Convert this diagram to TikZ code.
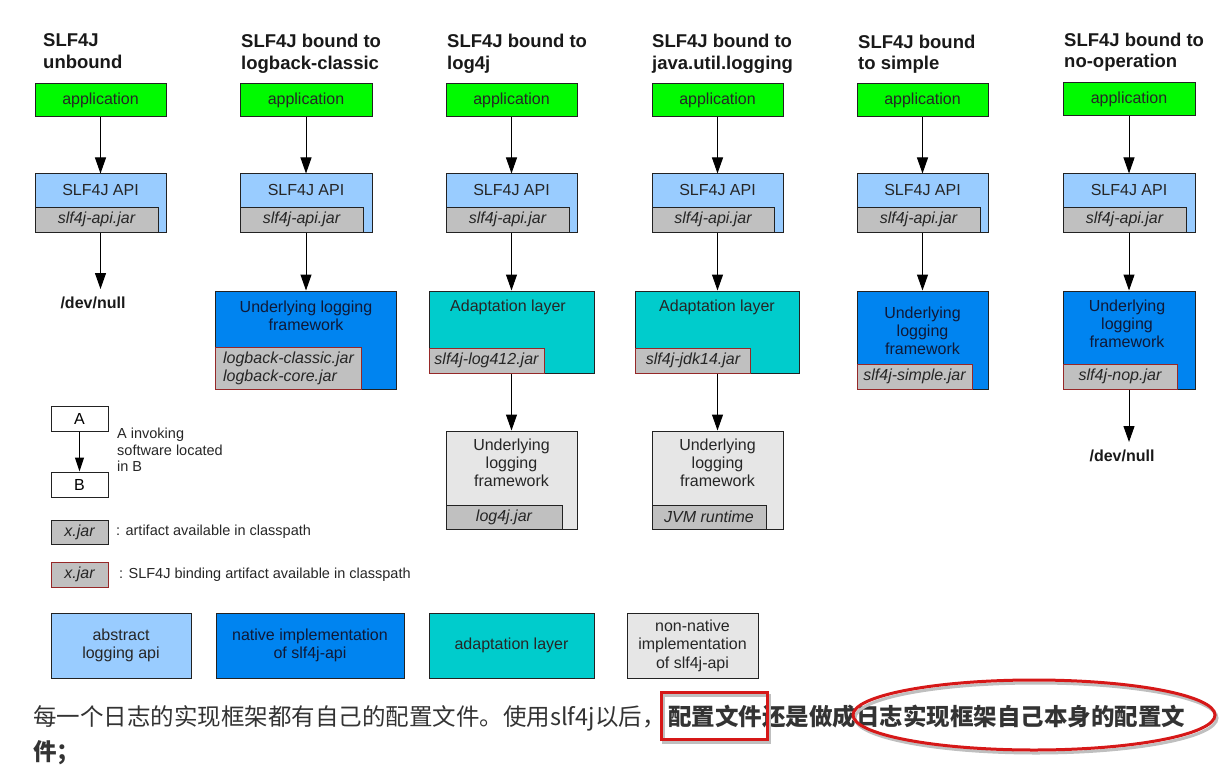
\documentclass[tikz,border=0pt]{standalone}
\usepackage{fontspec}
\setmainfont{Liberation Sans}
\newfontfamily\cjk{Noto Sans CJK SC}
\usetikzlibrary{arrows.meta}

\definecolor{appgreen}{RGB}{0,250,0}
\definecolor{apiblue}{RGB}{153,204,255}
\definecolor{natblue}{RGB}{0,132,240}
\definecolor{adteal}{RGB}{0,204,204}
\definecolor{nnlgray}{RGB}{230,230,230}
\definecolor{jargray}{RGB}{192,192,192}
\definecolor{bindred}{RGB}{150,40,40}
\definecolor{edgecol}{RGB}{34,34,34}
\definecolor{txtgray}{RGB}{51,51,51}
\definecolor{annred}{RGB}{214,24,24}
\definecolor{darktxt}{RGB}{15,25,55}

\newcommand\myfs{\fontsize{16}{18}\selectfont}
\newcommand\mysmall{\fontsize{14.5}{16.5}\selectfont}

\begin{document}
\begin{tikzpicture}[x=1pt,y=-1pt,
  box/.style={draw=edgecol, line width=1pt, inner sep=0pt},
  appbox/.style={box, fill=appgreen, minimum width=131pt, minimum height=33pt, font=\myfs, text=black!85},
  apibox/.style={box, fill=apiblue, minimum width=131pt, minimum height=58pt},
  natbox/.style={box, fill=natblue, minimum width=131pt, minimum height=98pt},
  adbox/.style={box, fill=adteal, minimum width=165pt, minimum height=82pt},
  nnbox/.style={box, fill=nnlgray, minimum width=131pt, minimum height=98pt},
  jar/.style={box, fill=jargray, minimum height=25pt, font=\myfs\itshape, text=black!85, anchor=south west},
  bind/.style={jar, draw=bindred},
  lbl/.style={inner sep=0pt, font=\myfs, align=center, text=black!85},
  nlbl/.style={lbl, text=darktxt},
  title/.style={inner sep=0pt, font=\fontsize{18.5}{21.5}\selectfont\bfseries, align=left, anchor=west, text=black!90},
  nulltxt/.style={inner sep=0pt, font=\fontsize{16}{18}\selectfont\bfseries, text=black!90},
  arr/.style={draw=black, line width=1pt, -{Triangle[length=16pt,width=11pt]}},
  sarr/.style={draw=black, line width=1pt, -{Triangle[length=14pt,width=9pt]}},
  legbox/.style={box, minimum height=65pt, font=\myfs, align=center, text=black!85},
  legtxt/.style={inner sep=0pt, font=\mysmall, align=left, anchor=west, text=black!85},
  ann/.style={draw=annred, line width=3pt},
  annshadow/.style={draw=black!25, line width=3pt}
]
\useasboundingbox (0,0) rectangle (1230,778);

% ---------- Column 1 : unbound ----------
\node[title] (t1) at (43,51) {SLF4J\\unbound};
\node[appbox] (app1) at (100.5,100.5) {application};
\node[apibox] (api1) at (100.5,203) {};
\node[lbl] (api1l) at (100.5,190) {SLF4J API};
\node[jar, minimum width=123pt] (jar1) at (api1.south west) {slf4j-api.jar};
\coordinate (n1tip) at (100.5,289);
\node[nulltxt] (null1) at (93,303) {/dev/null};
\draw[arr] (app1) -- (api1);
\draw[arr] (api1) -- (n1tip);

% ---------- Column 2 : logback-classic ----------
\node[title] (t2) at (241,54) {SLF4J bound to\\logback-classic};
\node[appbox, minimum width=132pt] (app2) at (306,100.5) {application};
\node[apibox, minimum width=132pt] (api2) at (306,203) {};
\node[lbl] (api2l) at (306,190) {SLF4J API};
\node[jar, minimum width=123pt] (jar2) at (api2.south west) {slf4j-api.jar};
\node[natbox, minimum width=181pt] (u2) at (306,340) {};
\node[nlbl] (u2l) at (306,316) {Underlying logging\\framework};
\node[bind, minimum width=146pt, minimum height=42pt, align=left] (jar2b) at (u2.south west) {logback-classic.jar\\logback-core.jar};
\draw[arr] (app2) -- (api2);
\draw[arr] (api2) -- (u2);

% ---------- Column 3 : log4j ----------
\node[title] (t3) at (447,54) {SLF4J bound to\\log4j};
\node[appbox] (app3) at (511.5,100.5) {application};
\node[apibox] (api3) at (511.5,203) {};
\node[lbl] (api3l) at (511.5,190) {SLF4J API};
\node[jar, minimum width=123pt] (jar3) at (api3.south west) {slf4j-api.jar};
\node[adbox] (a3) at (511.5,332) {};
\node[lbl] (a3l) at (508,307) {Adaptation layer};
\node[bind, minimum width=115pt] (jar3b) at (a3.south west) {slf4j-log412.jar};
\node[nnbox] (u3) at (511.5,480) {};
\node[lbl] (u3l) at (511.5,463) {Underlying\\logging\\framework};
\node[jar, minimum width=116pt, minimum height=24pt] (jar3c) at (u3.south west) {log4j.jar};
\draw[arr] (app3) -- (api3);
\draw[arr] (api3) -- (a3);
\draw[arr] (a3) -- (u3);

% ---------- Column 4 : java.util.logging ----------
\node[title] (t4) at (652,54) {SLF4J bound to\\java.util.logging};
\node[appbox] (app4) at (717.5,100.5) {application};
\node[apibox] (api4) at (717.5,203) {};
\node[lbl] (api4l) at (717.5,190) {SLF4J API};
\node[jar, minimum width=122pt] (jar4) at (api4.south west) {slf4j-api.jar};
\node[adbox, minimum width=164pt] (a4) at (717.5,332) {};
\node[lbl] (a4l) at (717,307) {Adaptation layer};
\node[bind, minimum width=115pt] (jar4b) at (a4.south west) {slf4j-jdk14.jar};
\node[nnbox] (u4) at (717.5,480) {};
\node[lbl] (u4l) at (717.5,463) {Underlying\\logging\\framework};
\node[jar, minimum width=114pt, minimum height=24pt] (jar4c) at (u4.south west) {JVM runtime};
\draw[arr] (app4) -- (api4);
\draw[arr] (api4) -- (a4);
\draw[arr] (a4) -- (u4);

% ---------- Column 5 : simple ----------
\node[title] (t5) at (858,54) {SLF4J bound\\to simple};
\node[appbox] (app5) at (922.5,100.5) {application};
\node[apibox] (api5) at (922.5,203) {};
\node[lbl] (api5l) at (922.5,190) {SLF4J API};
\node[jar, minimum width=123pt] (jar5) at (api5.south west) {slf4j-api.jar};
\node[natbox] (u5) at (922.5,340) {};
\node[nlbl] (u5l) at (922.5,331) {Underlying\\logging\\framework};
\node[bind, minimum width=115pt] (jar5b) at (u5.south west) {slf4j-simple.jar};
\draw[arr] (app5) -- (api5);
\draw[arr] (api5) -- (u5);

% ---------- Column 6 : no-operation ----------
\node[title] (t6) at (1064,52) {SLF4J bound to\\no-operation};
\node[appbox, minimum width=132pt] (app6) at (1129,99.5) {application};
\node[apibox, minimum width=132pt] (api6) at (1129,203) {};
\node[lbl] (api6l) at (1129,190) {SLF4J API};
\node[jar, minimum width=123pt] (jar6) at (api6.south west) {slf4j-api.jar};
\node[natbox, minimum width=132pt] (u6) at (1129,340) {};
\node[nlbl] (u6l) at (1127,324) {Underlying\\logging\\framework};
\node[bind, minimum width=114pt] (jar6b) at (u6.south west) {slf4j-nop.jar};
\coordinate (n6tip) at (1129,442);
\node[nulltxt] (null6) at (1122,456) {/dev/null};
\draw[arr] (app6) -- (api6);
\draw[arr] (u6) -- (n6tip);
\draw[arr] (api6) -- (u6);

% ---------- Legend ----------
\node[box, fill=white, minimum width=57pt, minimum height=25pt, font=\myfs] (la) at (79.5,418.5) {A};
\node[box, fill=white, minimum width=57pt, minimum height=25pt, font=\myfs] (lb) at (79.5,484.5) {B};
\draw[sarr] (la) -- (lb);
\node[legtxt] (ltxt) at (117,450) {A invoking\\software located\\in B};

\node[box, fill=jargray, minimum width=57pt, minimum height=24pt, font=\myfs\itshape, text=black!85] (lj1) at (79.5,532) {x.jar};
\node[legtxt] (lj1t) at (116,532) {: artifact available in classpath};
\node[box, draw=bindred, fill=jargray, minimum width=57pt, minimum height=25pt, font=\myfs\itshape, text=black!85] (lj2) at (79.5,574.5) {x.jar};
\node[legtxt] (lj2t) at (119,575) {: SLF4J binding artifact available in classpath};

\node[legbox, fill=apiblue, minimum width=140pt] (k1) at (121,645.5) {abstract\\logging api};
\node[legbox, fill=natblue, minimum width=188pt, text=darktxt] (k2) at (310,645.5) {native implementation\\of slf4j-api};
\node[legbox, fill=adteal, minimum width=165pt] (k3) at (511.5,645.5) {adaptation layer};
\node[legbox, fill=nnlgray, minimum width=131pt, font=\fontsize{16}{18.5}\selectfont] (k4) at (692.5,645.5) {non-native\\implementation\\of slf4j-api};

% ---------- Chinese text ----------
\node[anchor=base west, inner sep=0pt, font=\cjk\fontsize{23.5}{28}\selectfont, text=txtgray] (zh1) at (33,725) {每一个日志的实现框架都有自己的配置文件。使用slf4j以后，};
\node[anchor=base west, inner sep=0pt, font=\cjk\bfseries\fontsize{23.5}{28}\selectfont, text=txtgray] (zh2) at (668,725) {配置文件还是做成日志实现框架自己本身的配置文};
\node[anchor=base west, inner sep=0pt, font=\cjk\bfseries\fontsize{23.5}{28}\selectfont, text=txtgray] (zh3) at (33,760) {件；};

% ---------- annotations ----------
\draw[annshadow] (663,695) rectangle (769,742);
\draw[ann] (661,692) rectangle (767,739);
\draw[annshadow] (1036,718) ellipse [x radius=181pt, y radius=35pt];
\draw[ann] (1034,715) ellipse [x radius=181pt, y radius=35pt];
\end{tikzpicture}
\end{document}
